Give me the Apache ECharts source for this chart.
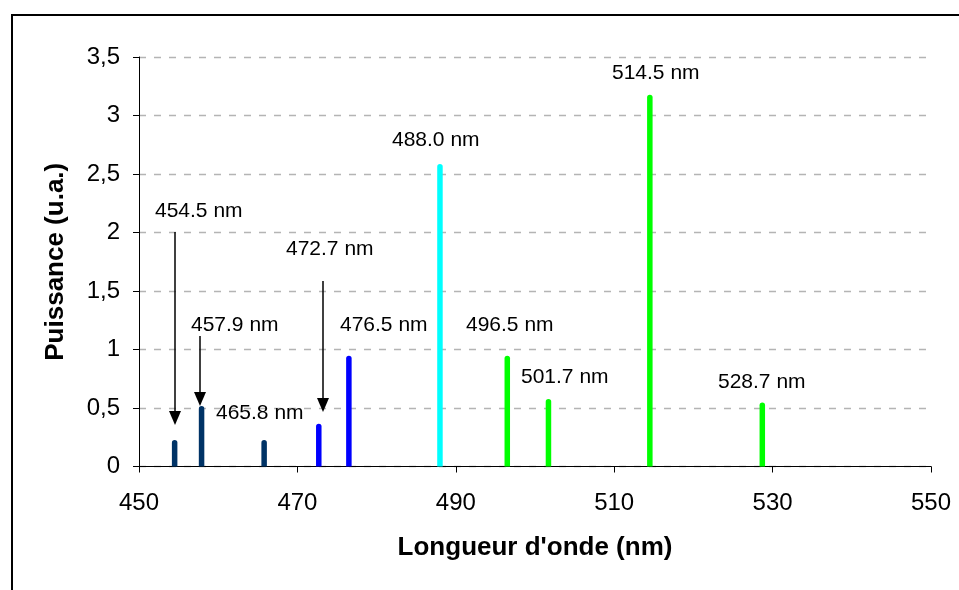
<!DOCTYPE html>
<html>
<head>
<meta charset="utf-8">
<script src="https://cdn.jsdelivr.net/npm/echarts@6/dist/echarts.min.js"></script>
<style>
  html, body { margin: 0; padding: 0; background: #fff; }
  #chart { width: 959px; height: 590px; }
</style>
</head>
<body>
<div id="chart"></div>
<script>
// spectral lines of the argon ion laser
const wavelengths = [454.5, 457.9, 465.8, 472.7, 476.5, 488.0, 496.5, 501.7, 514.5, 528.7]
const powers = [0.22, 0.51, 0.22, 0.36, 0.94, 2.58, 0.94, 0.57, 3.17, 0.54]
const lineColors = ['#003366', '#003366', '#003366', '#0000ff', '#0000ff', '#00ffff', '#00ff00', '#00ff00', '#00ff00', '#00ff00']
const xTicks = [450, 470, 490, 510, 530, 550]
const yTicks = [0, 0.5, 1, 1.5, 2, 2.5, 3, 3.5]

const font = 'Liberation Sans, Arial, sans-serif'

// label placement in pixels (layout only)
const labelBoxes = [
  { text: '454.5 nm', x: 155, y: 210 },
  { text: '457.9 nm', x: 191, y: 324 },
  { text: '465.8 nm', x: 216, y: 412 },
  { text: '472.7 nm', x: 286, y: 248 },
  { text: '476.5 nm', x: 340, y: 324 },
  { text: '488.0 nm', x: 392, y: 139 },
  { text: '496.5 nm', x: 466, y: 324 },
  { text: '501.7 nm', x: 521, y: 376 },
  { text: '514.5 nm', x: 612, y: 72 },
  { text: '528.7 nm', x: 718, y: 381 },
]
const arrows = [
  { x: 175, y1: 232, y2: 425 },
  { x: 200, y1: 336, y2: 406 },
  { x: 323, y1: 281, y2: 412 },
]

const chart = echarts.init(document.getElementById('chart'))

const graphics = [
  {
    type: 'rect',
    shape: { x: 12, y: 15, width: 1000, height: 620 },
    style: { fill: 'none', stroke: '#000', lineWidth: 2 },
    z: 0,
  },
]
labelBoxes.forEach((l) => {
  graphics.push({
    type: 'text',
    x: l.x,
    y: l.y + 1,
    style: { text: l.text, font: '21px ' + font, fill: '#000', textVerticalAlign: 'middle' },
    z: 10,
  })
})
arrows.forEach((a) => {
  graphics.push({
    type: 'line',
    shape: { x1: a.x, y1: a.y1, x2: a.x, y2: a.y2 - 12 },
    style: { stroke: '#000', lineWidth: 1.5 },
    z: 10,
  })
  graphics.push({
    type: 'polygon',
    shape: { points: [[a.x - 6, a.y2 - 14], [a.x + 6, a.y2 - 14], [a.x, a.y2]] },
    style: { fill: '#000' },
    z: 10,
  })
})

chart.setOption({
  animation: false,
  backgroundColor: '#fff',
  grid: { left: 139, right: 28, top: 57, bottom: 123.5 },
  xAxis: {
    type: 'value',
    min: xTicks[0],
    max: xTicks[xTicks.length - 1],
    interval: 20,
    name: "Longueur d'onde (nm)",
    nameLocation: 'middle',
    nameGap: 68,
    nameTextStyle: { fontFamily: font, fontSize: 26, fontWeight: 'bold', color: '#000' },
    axisLine: { lineStyle: { color: '#000', width: 1 } },
    axisTick: { lineStyle: { color: '#000' }, length: 6 },
    axisLabel: { fontFamily: font, fontSize: 24, color: '#000', margin: 25 },
    splitLine: { show: false },
  },
  yAxis: {
    type: 'value',
    min: yTicks[0],
    max: yTicks[yTicks.length - 1],
    interval: 0.5,
    name: 'Puissance (u.a.)',
    nameLocation: 'middle',
    nameGap: 70,
    nameTextStyle: { fontFamily: font, fontSize: 26, fontWeight: 'bold', color: '#000' },
    axisLine: { show: true, lineStyle: { color: '#000', width: 1 } },
    axisTick: { show: true, lineStyle: { color: '#000' }, length: 6 },
    axisLabel: {
      fontFamily: font,
      fontSize: 24,
      color: '#000',
      margin: 19,
      formatter: (v) => String(v).replace('.', ','),
    },
    splitLine: { show: true, lineStyle: { color: '#b4b4b4', type: [7, 8], width: 1.3 } },
  },
  series: [
    {
      type: 'custom',
      data: wavelengths.map((w, i) => [w, powers[i]]),
      renderItem: (params, api) => {
        const base = api.coord([api.value(0), 0])
        const top = api.coord([api.value(0), api.value(1)])
        return {
          type: 'line',
          shape: { x1: base[0], y1: base[1], x2: top[0], y2: top[1] + 2 },
          style: { stroke: lineColors[params.dataIndex], lineWidth: 5.5, lineCap: 'round' },
        }
      },
      clip: true,
      z: 3,
    },
  ],
  graphic: graphics,
})
</script>
</body>
</html>
